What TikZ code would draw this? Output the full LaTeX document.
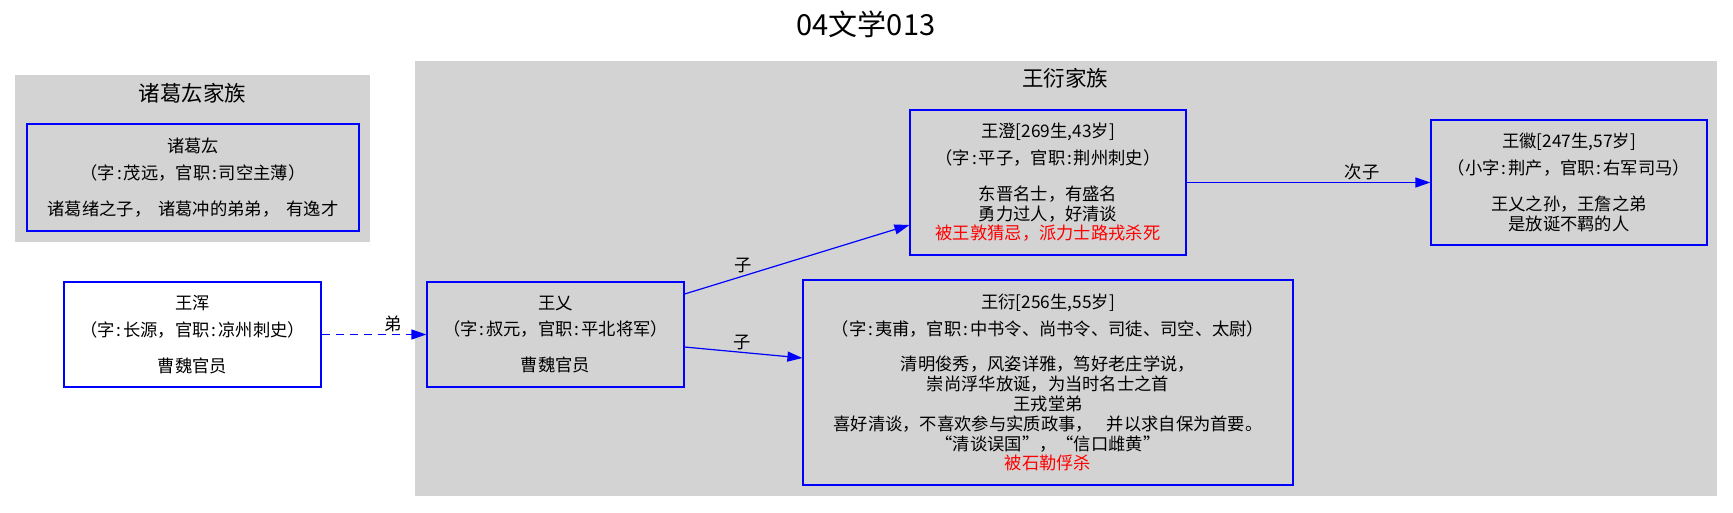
\documentclass[tikz,border=0pt]{standalone}
\usepackage{fontspec}
\setmainfont{Noto Sans CJK SC}
\usepackage{tikz}
\usetikzlibrary{arrows.meta}
\definecolor{cClus}{RGB}{211,211,211}
\definecolor{cLink}{RGB}{0,0,255}
\definecolor{cDeath}{RGB}{255,0,0}
\newcommand{\Gdeath}[1]{\textcolor{cDeath}{#1}}
\newcommand{\Gcol}{\makebox[0.5em][c]{:}}

\begin{document}
\begin{tikzpicture}[x=1pt,y=-1pt,
   person/.style={draw=cLink,line width=1.2pt,inner sep=0pt,align=center,font=\fontsize{17.3}{19.8}\selectfont},
   rel/.style={cLink,line width=1.2pt,-{Triangle[length=15pt,width=10pt]}},
   lbl/.style={inner sep=0pt,text=black,font=\fontsize{17.3}{20}\selectfont},
   clus/.style={font=\fontsize{21.5}{26}\selectfont}]
  \fill[white] (0,0) rectangle (1733,512);
  \useasboundingbox (0,0) rectangle (1733,512);
  \node[font=\fontsize{29}{32}\selectfont] (title) at (866,24) {04文学013};
  % Zhuge family
  \begin{scope}
    \fill[cClus] (15,75) rectangle (370,242);
    \node[clus] (zgfam) at (192.5,93) {诸葛厷家族};
    \node[person,minimum width=332pt,minimum height=107pt] (zhugehong) at (193,177.5)
      {诸葛厷\\[7pt]（字\Gcol 茂远，官职\Gcol 司空主薄）\\[16pt]诸葛绪之子，\hspace{0.4em}诸葛冲的弟弟，\hspace{0.4em}有逸才};
  \end{scope}
  % Wang family
  \begin{scope}
    \fill[cClus] (415,61) rectangle (1717,496);
    \node[clus] (wyfam) at (1065,78.5) {王衍家族};
    \node[person,minimum width=257pt,minimum height=105pt] (wangyi) at (555.5,334.5)
      {王乂\\[7pt]（字\Gcol 叔元，官职\Gcol 平北将军）\\[16pt]曹魏官员};
    \node[person,minimum width=276pt,minimum height=145pt] (wangcheng) at (1048,182.5)
      {王澄[269生,43岁]\\[7pt]（字\Gcol 平子，官职\Gcol 荆州刺史）\\[16pt]东晋名士，有盛名\\勇力过人，好清谈\\
       \Gdeath{被王敦猜忌，派力士路戎杀死}};
    \node[person,minimum width=276pt,minimum height=125pt] (wanghui) at (1569,182.5)
      {王徽[247生,57岁]\\[7pt]（小字\Gcol 荆产，官职\Gcol 右军司马）\\[16pt]王乂之孙，王詹之弟\\是放诞不羁的人};
    \node[person,minimum width=490pt,minimum height=205pt] (wangyan) at (1048,382.5)
      {王衍[256生,55岁]\\[7pt]（字\Gcol 夷甫，官职\Gcol 中书令、尚书令、司徒、司空、太尉）\\[16pt]
       清明俊秀，风姿详雅，笃好老庄学说，\\崇尚浮华放诞，为当时名士之首\\王戎堂弟\\
       喜好清谈，不喜欢参与实质政事，\hspace{0.8em}并以求自保为首要。\\“清谈误国”，“信口雌黄”\\
       \Gdeath{被石勒俘杀}};
  \end{scope}
  % outside the clusters
  \node[person,minimum width=257pt,minimum height=105pt] (wanghun) at (192.5,334.5)
    {王浑\\[7pt]（字\Gcol 长源，官职\Gcol 凉州刺史）\\[16pt]曹魏官员};
  % links
  \draw[rel,dash pattern=on 8pt off 6pt] (wanghun) -- node[lbl,pos=0.68,above=2pt] {弟} (wangyi);
  \draw[rel] ([yshift=40.5pt]wangyi.east) -- node[lbl,pos=0.26,above=3pt] {子} ([yshift=-42.5pt]wangcheng.west);
  \draw[rel] ([yshift=-12.5pt]wangyi.east) -- node[lbl,pos=0.49,above=1.5pt] {子} ([yshift=24.5pt]wangyan.west);
  \draw[rel] (wangcheng) -- node[lbl,pos=0.72,above=2pt] {次子} (wanghui);
\end{tikzpicture}
\end{document}
